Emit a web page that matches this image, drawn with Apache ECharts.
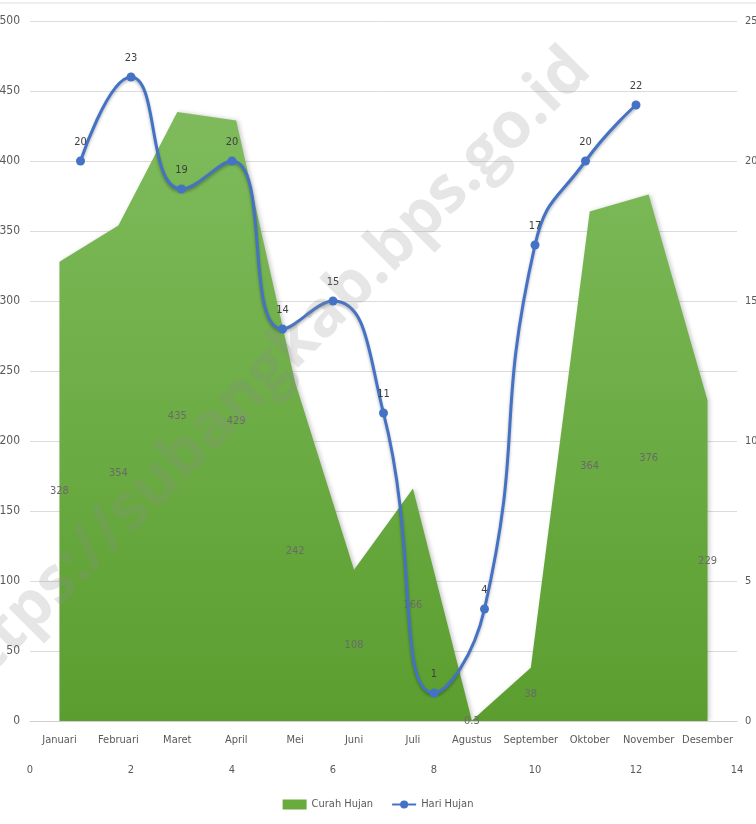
<!DOCTYPE html>
<html>
<head>
<meta charset="utf-8">
<script src="https://cdn.jsdelivr.net/npm/echarts@6/dist/echarts.min.js"></script>
<style>
  html, body { margin: 0; padding: 0; background: #fff; }
  #chart { width: 756px; height: 824px; }
</style>
</head>
<body>
<div id="chart"></div>
<script>
const months = ['Januari', 'Februari', 'Maret', 'April', 'Mei', 'Juni', 'Juli',
  'Agustus', 'September', 'Oktober', 'November', 'Desember']
const curahHujan = [328, 354, 435, 429, 242, 108, 166, 0.3, 38, 364, 376, 229]
const hariHujanX = [1, 2, 3, 4, 5, 6, 7, 8, 9, 10, 11, 12]
const hariHujan = [20, 23, 19, 20, 14, 15, 11, 1, 4, 17, 20, 22]

const font = "'Liberation Sans Narrow', 'DejaVu Sans Condensed', Roboto, sans-serif"
const gray = '#595959'

const chart = echarts.init(document.getElementById('chart'))

const option = {
  backgroundColor: '#fff',
  animation: false,
  textStyle: { fontFamily: font },
  grid: { left: 30, right: 19, top: 21, bottom: 103, outerBoundsMode: 'none' },
  legend: {
    data: [
      { name: 'Curah Hujan', icon: 'rect' },
      { name: 'Hari Hujan' }
    ],
    bottom: 9,
    itemWidth: 24,
    itemHeight: 10,
    itemGap: 18,
    textStyle: { color: gray, fontSize: 11, fontFamily: font }
  },
  xAxis: [
    {
      type: 'category',
      data: months,
      boundaryGap: true,
      axisLine: { lineStyle: { color: '#d0d0d0' } },
      axisTick: { show: false },
      axisLabel: { color: gray, fontSize: 11, margin: 14, interval: 0 }
    },
    {
      type: 'value',
      position: 'bottom',
      offset: 30,
      min: 0,
      max: 14,
      interval: 2,
      axisLine: { show: false },
      axisTick: { show: false },
      splitLine: { show: false },
      axisLabel: { color: gray, fontSize: 11, margin: 14 }
    }
  ],
  yAxis: [
    {
      type: 'value',
      min: 0,
      max: 500,
      interval: 50,
      axisLine: { show: false },
      axisTick: { show: false },
      axisLabel: { color: gray, fontSize: 12, margin: 10 },
      splitLine: { lineStyle: { color: '#dcdcdc' } }
    },
    {
      type: 'value',
      min: 0,
      max: 25,
      interval: 5,
      axisLine: { show: false },
      axisTick: { show: false },
      splitLine: { show: false },
      axisLabel: { color: gray, fontSize: 11, margin: 8 }
    }
  ],
  series: [
    {
      name: 'Curah Hujan',
      type: 'line',
      xAxisIndex: 0,
      yAxisIndex: 0,
      data: curahHujan,
      symbol: 'none',
      lineStyle: { width: 0 },
      itemStyle: { color: '#6aab3e' },
      areaStyle: {
        opacity: 1,
        color: new echarts.graphic.LinearGradient(0, 0, 0, 1, [
          { offset: 0, color: '#7fbb5c' },
          { offset: 1, color: '#5b9e2f' }
        ]),
        shadowColor: 'rgba(0,0,0,0.2)',
        shadowBlur: 4,
        shadowOffsetX: 2
      },
      z: 1
    },
    {
      name: 'labels',
      type: 'bar',
      xAxisIndex: 0,
      yAxisIndex: 0,
      data: curahHujan,
      barWidth: 2,
      itemStyle: { color: 'rgba(0,0,0,0)' },
      label: {
        show: true,
        position: 'inside',
        color: '#6a6a6a',
        fontSize: 11,
        fontFamily: font
      },
      silent: true,
      z: 3
    },
    {
      name: 'Hari Hujan',
      type: 'line',
      xAxisIndex: 1,
      yAxisIndex: 1,
      data: hariHujanX.map((x, i) => [x, hariHujan[i]]),
      smooth: true,
      symbol: 'circle',
      symbolSize: 9,
      lineStyle: {
        width: 3,
        color: '#4472c4',
        shadowColor: 'rgba(0,0,0,0.3)',
        shadowBlur: 3,
        shadowOffsetY: 2
      },
      itemStyle: { color: '#4472c4' },
      label: {
        show: true,
        position: 'top',
        distance: 9,
        color: '#404040',
        fontSize: 11,
        fontFamily: font,
        formatter: p => p.value[1]
      },
      z: 4
    }
  ],
  graphic: [
    {
      type: 'line',
      shape: { x1: 0, y1: 3, x2: 756, y2: 3 },
      style: { stroke: '#e0e0e0', lineWidth: 1 }
    },
    {
      type: 'text',
      x: 264,
      y: 376,
      rotation: Math.PI / 4,
      z: 10,
      style: {
        text: 'https://subangkab.bps.go.id',
        font: "bold 64px 'Open Sans', sans-serif",
        fill: 'rgba(140,140,140,0.22)',
        align: 'center',
        verticalAlign: 'middle'
      }
    }
  ]
}

chart.setOption(option)
</script>
</body>
</html>
